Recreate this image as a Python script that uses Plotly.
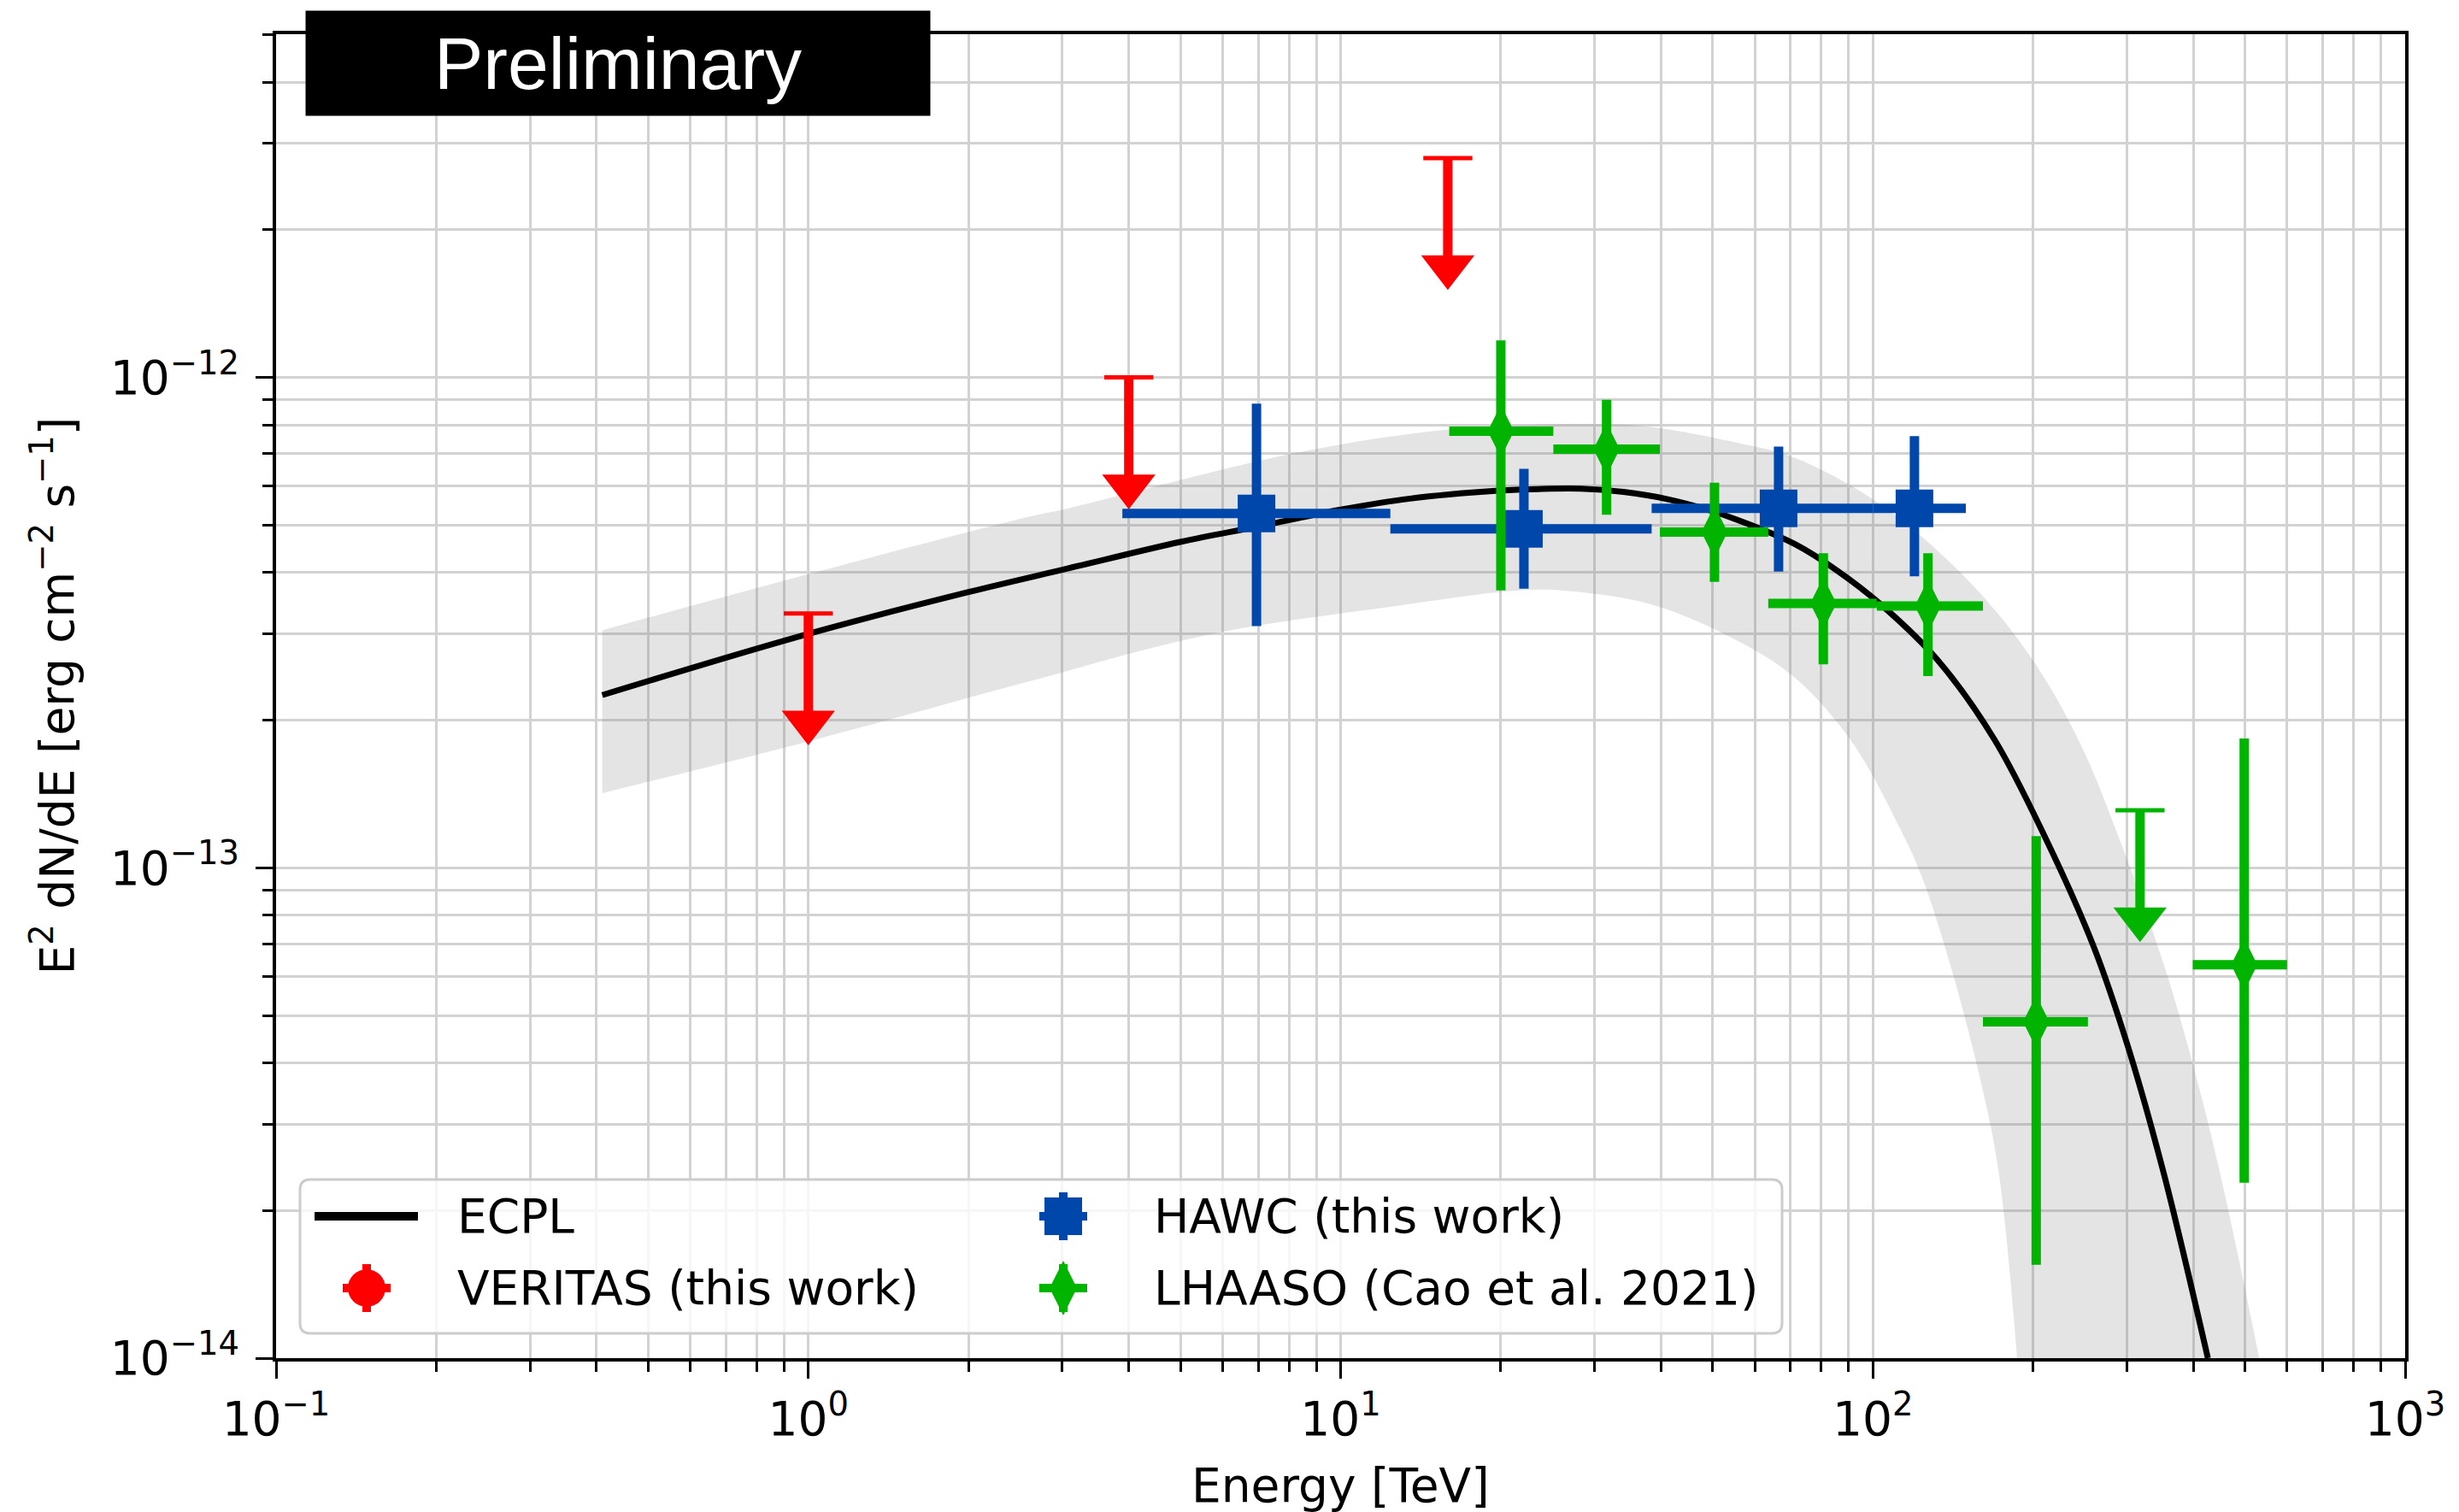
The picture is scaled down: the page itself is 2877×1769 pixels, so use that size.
import plotly.graph_objects as go

# ------------------------------------------------------------------ data
# Energies in TeV, fluxes as E^2 dN/dE in erg cm^-2 s^-1

# ECPL best-fit model
ecpl_energy = [0.41, 1.0, 2.0, 3.08, 5.0, 6.95, 10.06, 13.5, 19.56, 23.5, 28.3,
               34.0, 41.0, 49.3, 59.3, 71.4, 85.9, 103.3, 132.0, 169.0, 211.0,
               260.0, 301.8, 352.0, 426.0]
ecpl_flux = [2.25e-13, 3.0e-13, 3.65e-13, 4.08e-13, 4.62e-13, 4.96e-13, 5.38e-13,
             5.66e-13, 5.87e-13, 5.92e-13, 5.93e-13, 5.84e-13, 5.65e-13, 5.36e-13,
             4.99e-13, 4.57e-13, 4.03e-13, 3.45e-13, 2.66e-13, 1.83e-13, 1.15e-13,
             6.9e-14, 4.3e-14, 2.38e-14, 1.0e-14]

# 1-sigma envelope of the fit
band_upper_energy = [0.41, 1.0, 2.56, 3.08, 8.26, 15.86, 29.7, 38.5, 55.8, 71.4,
                     103.0, 149.5, 198.5, 244.7, 294.5, 354.2, 401.0, 448.0, 532.0]
band_upper_flux = [3.05e-13, 3.97e-13, 5.18e-13, 5.41e-13, 7.02e-13, 7.82e-13,
                   8.04e-13, 7.92e-13, 7.35e-13, 6.85e-13, 5.52e-13, 3.90e-13,
                   2.68e-13, 1.80e-13, 1.10e-13, 6.22e-14, 3.90e-14, 2.41e-14, 1.0e-14]
band_lower_energy = [0.41, 1.0, 2.56, 5.65, 12.45, 21.7, 26.6, 38.5, 55.8, 71.4,
                     91.2, 112.6, 124.3, 140.6, 159.0, 172.2, 186.6]
band_lower_flux = [1.42e-13, 1.81e-13, 2.39e-13, 2.99e-13, 3.41e-13, 3.68e-13,
                   3.67e-13, 3.44e-13, 2.90e-13, 2.44e-13, 1.81e-13, 1.20e-13,
                   9.43e-14, 6.2e-14, 3.72e-14, 2.41e-14, 1.0e-14]

# VERITAS (this work): upper limits
veritas_energy = [1.0, 4.0, 15.9]
veritas_ul = [3.3e-13, 1.0e-12, 2.8e-12]

# HAWC (this work)
hawc_energy = [6.95, 22.1, 66.5, 119.7]
hawc_e_low = [3.89, 12.4, 38.4, 100.0]
hawc_e_high = [12.4, 38.4, 100.0, 149.5]
hawc_flux = [5.28e-13, 4.91e-13, 5.41e-13, 5.41e-13]
hawc_flux_low = [3.11e-13, 3.71e-13, 4.02e-13, 3.93e-13]
hawc_flux_high = [8.84e-13, 6.51e-13, 7.23e-13, 7.59e-13]

# LHAASO (Cao et al. 2021)
lhaaso_energy = [20.0, 31.6, 50.4, 80.7, 126.9, 202.7, 498.5]
lhaaso_e_low = [16.0, 25.1, 39.8, 63.6, 101.7, 161.0, 399.0]
lhaaso_e_high = [25.1, 39.8, 63.6, 101.7, 161.0, 253.5, 600.0]
lhaaso_flux = [7.77e-13, 7.14e-13, 4.84e-13, 3.46e-13, 3.42e-13, 4.85e-14, 6.34e-14]
lhaaso_flux_low = [3.68e-13, 5.25e-13, 3.83e-13, 2.60e-13, 2.46e-13, 1.55e-14, 2.28e-14]
lhaaso_flux_high = [1.19e-12, 9.0e-13, 6.1e-13, 4.38e-13, 4.38e-13, 1.16e-13, 1.835e-13]
lhaaso_ul_energy = [317.6]
lhaaso_ul = [1.31e-13]

# axis ticks
x_major = [0.1, 1, 10, 100, 1000]
x_major_text = ["10<sup>\u22121</sup>", "10<sup>0</sup>", "10<sup>1</sup>",
                "10<sup>2</sup>", "10<sup>3</sup>"]
y_major = [1e-14, 1e-13, 1e-12]
y_major_text = ["10<sup>\u221214</sup>", "10<sup>\u221213</sup>", "10<sup>\u221212</sup>"]

# ------------------------------------------------------------------ style
W, H = 2877, 1769
PL, PR, PT, PB = 323, 2814, 40, 1589          # plot area in page pixels
FONT = "DejaVu Sans"
FS = 55
RED, BLUE, GREEN = "#ff0000", "#0047ab", "#00b400"
GRID = "#d2d2d2"
BAR_W = 11
ARROW_FRACTION = 0.6   # arrow head sits at this fraction of the limit


def px(X):
    return (X - PL) / (PR - PL)


def py(Y):
    return (PB - Y) / (PB - PT)


x_minor = [k * 10.0 ** p for p in range(-1, 3) for k in range(2, 10)]
y_minor = [k * 10.0 ** p for p in range(-14, -11) for k in range(2, 10)
           if k * 10.0 ** p <= 5e-12]

fig = go.Figure()

# uncertainty band
fig.add_trace(go.Scatter(x=band_lower_energy, y=band_lower_flux, mode="lines",
                         line=dict(width=0, shape="spline"), hoverinfo="skip",
                         showlegend=False))
fig.add_trace(go.Scatter(x=band_upper_energy, y=band_upper_flux, mode="lines",
                         line=dict(width=0, shape="spline"), fill="tonexty",
                         fillcolor="rgba(120,120,120,0.2)", hoverinfo="skip",
                         showlegend=False))

# ECPL model curve
fig.add_trace(go.Scatter(x=ecpl_energy, y=ecpl_flux, mode="lines",
                         line=dict(color="black", width=7, shape="spline"),
                         name="ECPL", showlegend=False))


def add_upper_limits(energy, ul, color):
    arrow = [u * ARROW_FRACTION for u in ul]
    xs, ys = [], []
    for e, u, a in zip(energy, ul, arrow):
        xs += [e, e, None]
        ys += [u, a, None]
    fig.add_trace(go.Scatter(x=xs, y=ys, mode="lines",
                             line=dict(color=color, width=BAR_W),
                             hoverinfo="skip", showlegend=False))
    fig.add_trace(go.Scatter(x=energy, y=ul, mode="markers",
                             marker=dict(symbol="line-ew", size=41,
                                         line=dict(color=color, width=5)),
                             hoverinfo="skip", showlegend=False))
    fig.add_trace(go.Scatter(x=energy, y=arrow, mode="markers",
                             marker=dict(symbol="triangle-down", size=54,
                                         color=color, line=dict(width=0)),
                             hoverinfo="skip", showlegend=False))


def add_points(energy, e_lo, e_hi, flux, f_lo, f_hi, color, symbol, size, lw):
    fig.add_trace(go.Scatter(
        x=energy, y=flux, mode="markers",
        marker=dict(symbol=symbol, size=size, color=color,
                    line=dict(color=color, width=lw)),
        error_x=dict(type="data", symmetric=False,
                     array=[h - e for e, h in zip(energy, e_hi)],
                     arrayminus=[e - l for e, l in zip(energy, e_lo)],
                     color=color, thickness=BAR_W, width=0),
        error_y=dict(type="data", symmetric=False,
                     array=[h - f for f, h in zip(flux, f_hi)],
                     arrayminus=[f - l for f, l in zip(flux, f_lo)],
                     color=color, thickness=BAR_W, width=0),
        showlegend=False))


add_upper_limits(veritas_energy, veritas_ul, RED)
add_points(hawc_energy, hawc_e_low, hawc_e_high, hawc_flux, hawc_flux_low,
           hawc_flux_high, BLUE, "square", 44, 0)
add_points(lhaaso_energy, lhaaso_e_low, lhaaso_e_high, lhaaso_flux,
           lhaaso_flux_low, lhaaso_flux_high, GREEN, "diamond-tall", 44, 0)
add_upper_limits(lhaaso_ul_energy, lhaaso_ul, GREEN)

# ------------------------------------------------------------------ legend
shapes = []
lx0, lx1, ly0, ly1, rad = 351, 2085, 1380, 1560, 12
box = (f"M {px(lx0 + rad)},{py(ly0)} L {px(lx1 - rad)},{py(ly0)} "
       f"Q {px(lx1)},{py(ly0)} {px(lx1)},{py(ly0 + rad)} "
       f"L {px(lx1)},{py(ly1 - rad)} Q {px(lx1)},{py(ly1)} {px(lx1 - rad)},{py(ly1)} "
       f"L {px(lx0 + rad)},{py(ly1)} Q {px(lx0)},{py(ly1)} {px(lx0)},{py(ly1 - rad)} "
       f"L {px(lx0)},{py(ly0 + rad)} Q {px(lx0)},{py(ly0)} {px(lx0 + rad)},{py(ly0)} Z")
shapes.append(dict(type="path", path=box, xref="paper", yref="paper",
                   fillcolor="rgba(255,255,255,0.8)",
                   line=dict(color="#cccccc", width=3), layer="above"))

row1, row2 = 1423, 1507
col1_glyph, col2_glyph = 429, 1244
col1_text, col2_text = 533, 1348

# ECPL line glyph
shapes.append(dict(type="line", xref="paper", yref="paper",
                   x0=px(368), x1=px(489), y0=py(row1), y1=py(row1),
                   line=dict(color="black", width=10), layer="above"))


def glyph(cx, cy, color, kind):
    stub, half = 28, 22
    shapes.append(dict(type="line", xref="paper", yref="paper",
                       x0=px(cx - stub), x1=px(cx + stub), y0=py(cy), y1=py(cy),
                       line=dict(color=color, width=10), layer="above"))
    shapes.append(dict(type="line", xref="paper", yref="paper",
                       x0=px(cx), x1=px(cx), y0=py(cy - stub), y1=py(cy + stub),
                       line=dict(color=color, width=10), layer="above"))
    if kind == "circle":
        shapes.append(dict(type="circle", xref="paper", yref="paper",
                           x0=px(cx - half), x1=px(cx + half),
                           y0=py(cy + half), y1=py(cy - half),
                           fillcolor=color, line=dict(width=0), layer="above"))
    elif kind == "square":
        shapes.append(dict(type="rect", xref="paper", yref="paper",
                           x0=px(cx - half), x1=px(cx + half),
                           y0=py(cy + half), y1=py(cy - half),
                           fillcolor=color, line=dict(width=0), layer="above"))
    else:
        d = (f"M {px(cx)},{py(cy - 32)} L {px(cx + 16)},{py(cy)} "
             f"L {px(cx)},{py(cy + 32)} L {px(cx - 16)},{py(cy)} Z")
        shapes.append(dict(type="path", path=d, xref="paper", yref="paper",
                           fillcolor=color, line=dict(width=0), layer="above"))


glyph(col1_glyph, row2, RED, "circle")
glyph(col2_glyph, row1, BLUE, "square")
glyph(col2_glyph, row2, GREEN, "diamond")

annotations = []
for text, X, Y in [("ECPL", col1_text, row1),
                   ("VERITAS (this work)", col1_text, row2),
                   ("HAWC (this work)", col2_text, row1),
                   ("LHAASO (Cao et al. 2021)", col2_text, row2)]:
    annotations.append(dict(text=text, xref="paper", yref="paper", x=px(X), y=py(Y),
                            xanchor="left", yanchor="middle", showarrow=False,
                            font=dict(family=FONT, size=FS, color="black")))

# axis titles
annotations.append(dict(text="Energy [TeV]", xref="paper", yref="paper",
                        x=0.5, y=py(1738), xanchor="center", yanchor="middle",
                        showarrow=False, font=dict(family=FONT, size=FS, color="black")))
annotations.append(dict(text="E<sup>2</sup> dN/dE [erg cm<sup>\u22122</sup> s<sup>\u22121</sup>]",
                        xref="paper", yref="paper", x=px(62), y=0.5, textangle=-90,
                        xanchor="center", yanchor="middle", showarrow=False,
                        font=dict(family=FONT, size=FS, color="black")))

# "Preliminary" banner
annotations.append(dict(text="Preliminary", xref="paper", yref="paper",
                        x=px(723), y=py(74.25), xanchor="center", yanchor="middle",
                        width=730, height=122, bgcolor="black", borderpad=0,
                        valign="middle", align="center", showarrow=False,
                        font=dict(family="Liberation Sans", size=86, color="white")))

axis_common = dict(
    type="log", ticks="outside", ticklen=20, tickwidth=3, tickcolor="black",
    showline=True, linewidth=4, linecolor="black", mirror=True,
    showgrid=True, gridcolor=GRID, gridwidth=3, zeroline=False,
    tickfont=dict(family=FONT, size=FS, color="black"),
    ticklabeloverflow="allow",
)

fig.update_layout(
    width=W, height=H,
    margin=dict(l=PL, r=W - PR, t=PT, b=H - PB, pad=0),
    paper_bgcolor="white", plot_bgcolor="white",
    font=dict(family=FONT, size=FS, color="black"),
    showlegend=False,
    xaxis=dict(range=[-1, 3], tickmode="array", tickvals=x_major, ticktext=x_major_text,
               minor=dict(tickmode="array", tickvals=x_minor, ticks="outside", ticklen=12,
                          tickwidth=2.5, tickcolor="black", showgrid=True,
                          gridcolor=GRID, gridwidth=3),
               **axis_common),
    yaxis=dict(range=[-14, -11.3], tickmode="array", tickvals=y_major, ticktext=y_major_text,
               minor=dict(tickmode="array", tickvals=y_minor, ticks="outside", ticklen=12,
                          tickwidth=2.5, tickcolor="black", showgrid=True,
                          gridcolor=GRID, gridwidth=3),
               ticklabelstandoff=8,
               **axis_common),
    shapes=shapes,
    annotations=annotations,
)

fig.write_html("out.html")
